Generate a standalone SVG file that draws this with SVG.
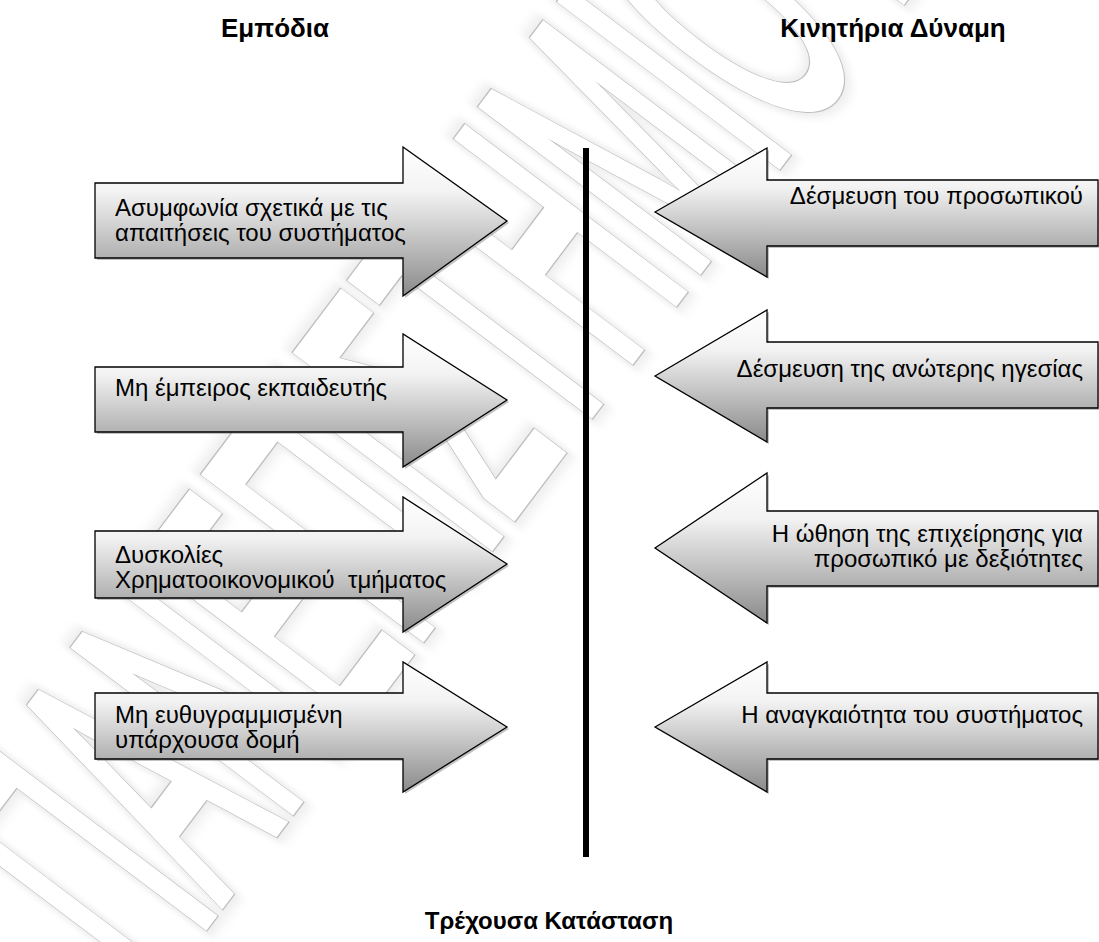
<svg xmlns="http://www.w3.org/2000/svg" width="1099" height="942" viewBox="0 0 1099 942">
  <defs>
    <linearGradient id="arrowFill" x1="0" y1="0" x2="0" y2="1">
      <stop offset="0" stop-color="#ffffff"/>
      <stop offset="0.3" stop-color="#f3f3f3"/>
      <stop offset="1" stop-color="#8a8a8a"/>
    </linearGradient>
    <filter id="haze" x="-20%" y="-20%" width="140%" height="140%">
      <feGaussianBlur stdDeviation="6"/>
    </filter>
    <style>
      .arrow { fill: url(#arrowFill); stroke: #000; stroke-width: 1.3; stroke-linejoin: miter; }
      .shadow { fill: #7a7a7a; opacity: 0.45; }
      .label { font-family: "Liberation Sans", Arial, sans-serif; font-size: 24px; fill: #000; }
      .right { text-anchor: end; }
      .title { font-family: "Liberation Sans", Arial, sans-serif; font-size: 26px; font-weight: bold; fill: #000; text-anchor: middle; }
      .wm { font-family: "Liberation Sans", Arial, sans-serif; font-size: 390px; }
    </style>
  </defs>

  <rect width="1099" height="942" fill="#ffffff"/>

  <!-- background stamp: double-outlined lettering along the diagonal -->
  <g id="watermark" transform="translate(152,994) rotate(-53)">
    <g transform="scale(0.4,1)">
      <text class="wm" x="0" y="0" fill="none" stroke="#ededed" stroke-width="20" filter="url(#haze)" vector-effect="non-scaling-stroke">ΠΑΝΕΠΙΣΤΗΜΙΟ ΠΕΙΡΑΙΩΣ</text>
      <text class="wm" x="0" y="0" fill="#ffffff" stroke="#bdbdbd" stroke-width="10" vector-effect="non-scaling-stroke">ΠΑΝΕΠΙΣΤΗΜΙΟ ΠΕΙΡΑΙΩΣ</text>
      <text class="wm" x="0" y="0" fill="#ffffff" stroke="#ffffff" stroke-width="8" vector-effect="non-scaling-stroke">ΠΑΝΕΠΙΣΤΗΜΙΟ ΠΕΙΡΑΙΩΣ</text>
    </g>
  </g>

  <!-- column headings -->
  <text class="title" x="275" y="37">Εμπόδια</text>
  <text class="title" x="893" y="37">Κινητήρια Δύναμη</text>
  <text class="title" x="549" y="929" style="font-size:24px">Τρέχουσα Κατάσταση</text>

  <!-- dividing line: current state -->
  <g id="connectors">
    <rect x="583" y="148" width="6" height="709" fill="#000"/>
  </g>

  <!-- obstacles (pointing right) -->
  <g id="obstacle-1">
    <polygon class="shadow" points="97,185 405,185 405,149 509,223 405,298 405,260 97,260"/>
    <polygon class="arrow" points="95,183 403,183 403,147 507,221 403,296 403,258 95,258"/>
    <text class="label" x="115" y="216">Ασυμφωνία σχετικά με τις</text>
    <text class="label" x="115" y="241">απαιτήσεις του συστήματος</text>
  </g>
  <g id="obstacle-2">
    <polygon class="shadow" points="97,369 405,369 405,336 509,402 405,469 405,434 97,434"/>
    <polygon class="arrow" points="95,367 403,367 403,334 507,400 403,467 403,432 95,432"/>
    <text class="label" x="115" y="396">Μη έμπειρος εκπαιδευτής</text>
  </g>
  <g id="obstacle-3">
    <polygon class="shadow" points="97,533 405,533 405,499 509,566 405,634 405,600 97,600"/>
    <polygon class="arrow" points="95,531 403,531 403,497 507,564 403,632 403,598 95,598"/>
    <text class="label" x="115" y="563">Δυσκολίες</text>
    <text class="label" x="115" y="588" xml:space="preserve">Χρηματοοικονομικού  τμήματος</text>
  </g>
  <g id="obstacle-4">
    <polygon class="shadow" points="97,695 405,695 405,664 509,729 405,794 405,761 97,761"/>
    <polygon class="arrow" points="95,693 403,693 403,662 507,727 403,792 403,759 95,759"/>
    <text class="label" x="115" y="723">Μη ευθυγραμμισμένη</text>
    <text class="label" x="115" y="748">υπάρχουσα δομή</text>
  </g>

  <!-- driving forces (pointing left) -->
  <g id="driver-1">
    <polygon class="shadow" points="657,214 769,150 769,182 1100,182 1100,248 769,248 769,279"/>
    <polygon class="arrow" points="655,212 767,148 767,180 1098,180 1098,246 767,246 767,277"/>
    <text class="label right" x="1083" y="204">Δέσμευση του προσωπικού</text>
  </g>
  <g id="driver-2">
    <polygon class="shadow" points="657,378 769,312 769,344 1100,344 1100,410 769,410 769,444"/>
    <polygon class="arrow" points="655,376 767,310 767,342 1098,342 1098,408 767,408 767,442"/>
    <text class="label right" x="1083" y="377">Δέσμευση της ανώτερης ηγεσίας</text>
  </g>
  <g id="driver-3">
    <polygon class="shadow" points="657,550 769,475 769,513 1100,513 1100,588 769,588 769,625"/>
    <polygon class="arrow" points="655,548 767,473 767,511 1098,511 1098,586 767,586 767,623"/>
    <text class="label right" x="1083" y="542">Η ώθηση της επιχείρησης για</text>
    <text class="label right" x="1083" y="567">προσωπικό με δεξιότητες</text>
  </g>
  <g id="driver-4">
    <polygon class="shadow" points="657,729 769,664 769,695 1100,695 1100,761 769,761 769,794"/>
    <polygon class="arrow" points="655,727 767,662 767,693 1098,693 1098,759 767,759 767,792"/>
    <text class="label right" x="1083" y="723">Η αναγκαιότητα του συστήματος</text>
  </g>
</svg>
